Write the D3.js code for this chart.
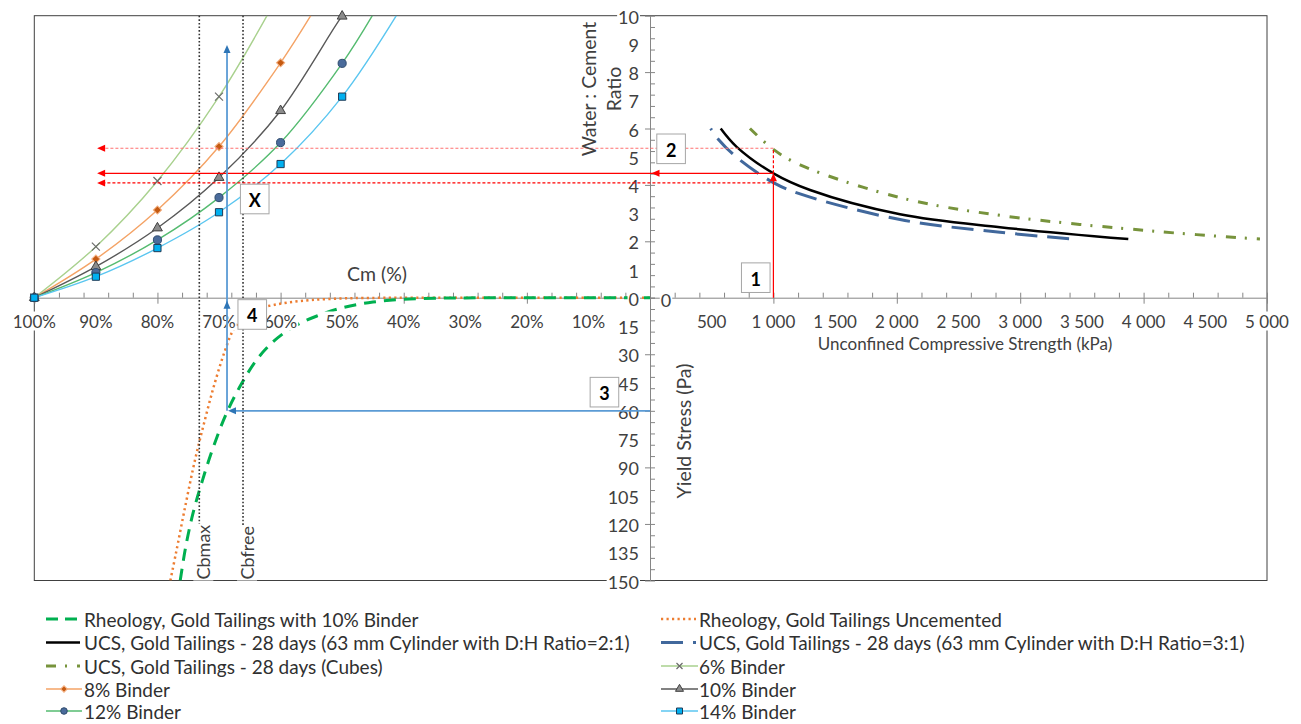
<!DOCTYPE html>
<html>
<head>
<meta charset="utf-8">
<script src="https://cdn.jsdelivr.net/npm/d3@7"></script>
<style>
  body { margin: 0; background: #fff; }
  svg text { font-family: Lato, "Open Sans", sans-serif; font-size: 17px; fill: #404040; }
  svg text.big { font-size: 19.5px; }
  svg text.leg { font-size: 19px; fill: #303030; }
</style>
</head>
<body>
<div id="chart"></div>
<script>
// tick labels
const cmLabels = [100, 90, 80, 70, 60, 50, 40, 30, 20, 10];
const wcLabels = [0, 1, 2, 3, 4, 5, 6, 7, 8, 9, 10];
const yieldLabels = [15, 30, 45, 60, 75, 90, 105, 120, 135, 150];
const ucsLabels = [500, 1000, 1500, 2000, 2500, 3000, 3500, 4000, 4500, 5000];

// W:C ratio vs Cm (%) for each binder content: markers, then where the trend line leaves the top
const binder6 = [[100, 0], [90, 1.81], [80, 4.14], [70, 7.13]];
const binder6End = [62.2, 10];
const binder8 = [[100, 0], [90, 1.37], [80, 3.11], [70, 5.36], [60, 8.33]];
const binder8End = [55.1, 10];
const binder10 = [[100, 0], [90, 1.1], [80, 2.47], [70, 4.26], [60, 6.63], [50, 9.98]];
const binder10End = [49.8, 10];
const binder12 = [[100, 0], [90, 0.89], [80, 2.05], [70, 3.55], [60, 5.5], [50, 8.31]];
const binder12End = [45.1, 10];
const binder14 = [[100, 0], [90, 0.745], [80, 1.76], [70, 3.03], [60, 4.74], [50, 7.13]];
const binder14End = [41.2, 10];

// W:C ratio vs UCS (kPa)
const ucsCyl21 = [[573, 6.0], [702, 5.35], [1000, 4.41], [1297, 3.82], [2026, 2.96], [2836, 2.5], [3876, 2.08]];
const ucsCyl31 = [[492, 6.0], [553, 5.62], [702, 4.98], [1000, 4.08], [1216, 3.68], [2026, 2.77], [2836, 2.32], [3458, 2.07]];
const ucsCubes = [[810, 6.0], [1000, 5.26], [1216, 4.71], [2026, 3.55], [2836, 2.92], [4133, 2.34], [4943, 2.08]];

// yield stress (Pa) vs Cm (%)
const rheo10 = [[76.3, 150], [75.4, 132], [74.2, 114], [72.7, 97], [70.9, 79], [68.75, 61], [66.3, 45.4],
  [63.9, 33], [61.2, 23.3], [57.9, 15.4], [54.1, 9.7], [49.8, 5.2], [45, 2.3], [40, 0.8], [35, 0.3], [30, 0.1], [0, 0]];
const rheoUncem = [[77.9, 150], [77.0, 135.6], [75.5, 110.9], [73.9, 86.1], [72.3, 64.9], [70.7, 45.4], [69.0, 27.8],
  [67.7, 17.2], [66.6, 12.6], [65.0, 8.0], [63, 5.3], [61.2, 3.9], [58.5, 2.4], [55, 1.2], [50, 0.4], [45, 0.1], [0, 0]];

// annotation values
const cbmax = 73.2;
const cbfree = 66.1;
const redUCS = 1000;
const redWC = [5.3, 4.41, 4.07]; // upper dashed, solid, lower dashed
const redArrowCm = 89.8;
const blueCm = 68.7;
const blueYield = 60;
const blueTopWC = 8.96;

const w = 1301;
const h = 724;

const xCm = d3.scaleLinear().domain([100, 0]).range([34.3, 650]);
const yWC = d3.scaleLinear().domain([0, 10]).range([297.7, 15.7]);
const yYS = d3.scaleLinear().domain([0, 150]).range([297.7, 580.5]);
const xUCS = d3.scaleLinear().domain([0, 5000]).range([650, 1267]);

const fmt = d3.formatLocale({ decimal: ".", thousands: " ", grouping: [3], currency: ["", ""] }).format(",");

const svg = d3.select("#chart").append("svg").attr("width", w).attr("height", h);

const defs = svg.append("defs");
defs.append("clipPath").attr("id", "clipTL").append("rect")
  .attr("x", xCm(100)).attr("y", yWC(10)).attr("width", xCm(0) - xCm(100)).attr("height", yWC(0) - yWC(10));
defs.append("clipPath").attr("id", "clipBL").append("rect")
  .attr("x", xCm(100)).attr("y", yWC(0) - 6).attr("width", xCm(0) - xCm(100)).attr("height", yYS(150) - yWC(0) + 6);

// white box behind labels, like Excel does
function addBackground(sel) {
  sel.each(function () {
    const b = this.getBBox();
    d3.select(this.parentNode)
      .insert("rect", () => this)
      .attr("x", b.x - 1).attr("y", b.y + 1)
      .attr("width", b.width + 2).attr("height", b.height - 2)
      .attr("transform", this.getAttribute("transform"))
      .attr("fill", "#fff");
  });
}

// plot area border
svg.append("rect")
  .attr("x", xCm(100)).attr("y", yWC(10))
  .attr("width", xUCS(5000) - xCm(100)).attr("height", yYS(150) - yWC(10))
  .attr("fill", "none").attr("stroke", "#404040").attr("stroke-width", 1);

// axes
const axisColor = "#868686";
function styleAxis(g) {
  g.selectAll("path").attr("stroke", axisColor);
  g.selectAll("line").attr("stroke", axisColor);
  g.selectAll("text").remove();
}
const minorCm = d3.range(0, 26).map((i) => i * 4);
const minorUCS = d3.range(0, 26).map((i) => i * 200);
const minorWC = d3.range(0, 26).map((i) => +(i * 0.4).toFixed(1));
const minorYS = d3.range(0, 26).map((i) => i * 6);

svg.append("g").attr("transform", `translate(0,${yWC(0)})`)
  .call(d3.axisTop(xCm).tickValues(minorCm).tickSize(5).tickSizeOuter(0).tickFormat(""))
  .call(styleAxis);
svg.append("g").attr("transform", `translate(0,${yWC(0)})`)
  .call(d3.axisBottom(xCm).tickValues([100, 80, 60, 40, 20, 0]).tickSize(6).tickSizeOuter(0).tickFormat(""))
  .call(styleAxis).call((g) => g.select(".domain").remove());

svg.append("g").attr("transform", `translate(0,${yWC(0)})`)
  .call(d3.axisTop(xUCS).tickValues(minorUCS).tickSize(5).tickSizeOuter(0).tickFormat(""))
  .call(styleAxis);
svg.append("g").attr("transform", `translate(0,${yWC(0)})`)
  .call(d3.axisBottom(xUCS).tickValues([1000, 2000, 3000, 4000, 5000]).tickSize(6).tickSizeOuter(0).tickFormat(""))
  .call(styleAxis).call((g) => g.select(".domain").remove());

svg.append("g").attr("transform", `translate(${xCm(0)},0)`)
  .call(d3.axisRight(yWC).tickValues(minorWC).tickSize(5).tickSizeOuter(0).tickFormat(""))
  .call(styleAxis);
svg.append("g").attr("transform", `translate(${xCm(0)},0)`)
  .call(d3.axisLeft(yWC).tickValues([2, 4, 6, 8, 10]).tickSize(5).tickSizeOuter(0).tickFormat(""))
  .call(styleAxis).call((g) => g.select(".domain").remove());
svg.append("g").attr("transform", `translate(${xCm(0)},0)`)
  .call(d3.axisRight(yYS).tickValues(minorYS).tickSize(5).tickSizeOuter(0).tickFormat(""))
  .call(styleAxis);
svg.append("g").attr("transform", `translate(${xCm(0)},0)`)
  .call(d3.axisLeft(yYS).tickValues([30, 60, 90, 120, 150]).tickSize(5).tickSizeOuter(0).tickFormat(""))
  .call(styleAxis).call((g) => g.select(".domain").remove());

// binder trend lines (top left)
const binders = [
  { name: "6% Binder", pts: binder6, end: binder6End, line: "#a9d18e", marker: "x", fill: "none", stroke: "#6b6b6b" },
  { name: "8% Binder", pts: binder8, end: binder8End, line: "#f4a366", marker: "diamond", fill: "#c55a11", stroke: "#f4b183" },
  { name: "10% Binder", pts: binder10, end: binder10End, line: "#595959", marker: "triangle", fill: "#8c8c8c", stroke: "#404040" },
  { name: "12% Binder", pts: binder12, end: binder12End, line: "#55bb70", marker: "circle", fill: "#4a6b9b", stroke: "#2f4b6e" },
  { name: "14% Binder", pts: binder14, end: binder14End, line: "#5bc6f0", marker: "square", fill: "#00b0f0", stroke: "#1f3a56" }
];

const binderLine = d3.line()
  .x((d) => xCm(d[0])).y((d) => yWC(d[1]))
  .curve(d3.curveCatmullRom.alpha(0.5));

svg.append("g").attr("clip-path", "url(#clipTL)")
  .selectAll("path")
  .data(binders)
  .enter()
  .append("path")
  .attr("d", (d) => binderLine(d.pts.concat([d.end])))
  .attr("fill", "none")
  .attr("stroke", (d) => d.line)
  .attr("stroke-width", 1.4);

// UCS curves (top right)
const ucsLine = d3.line()
  .x((d) => xUCS(d[0])).y((d) => yWC(d[1]))
  .curve(d3.curveCatmullRom.alpha(0.5));

svg.append("path").attr("d", ucsLine(ucsCubes))
  .attr("fill", "none").attr("stroke", "#77933c").attr("stroke-width", 3)
  .attr("stroke-dasharray", "10,9,2,10");
svg.append("path").attr("d", ucsLine(ucsCyl31))
  .attr("fill", "none").attr("stroke", "#41689c").attr("stroke-width", 3)
  .attr("stroke-dasharray", "22,10").attr("stroke-dashoffset", 20);
svg.append("path").attr("d", ucsLine(ucsCyl21))
  .attr("fill", "none").attr("stroke", "#000").attr("stroke-width", 2.5);

// rheology curves (bottom left)
const rheoLine = d3.line()
  .x((d) => xCm(d[0])).y((d) => yYS(d[1]))
  .curve(d3.curveCatmullRom.alpha(0.5));

const rheoG = svg.append("g").attr("clip-path", "url(#clipBL)");
rheoG.append("path").attr("d", rheoLine(rheoUncem))
  .attr("fill", "none").attr("stroke", "#ed7d31").attr("stroke-width", 2.5)
  .attr("stroke-dasharray", "2.2,3.3");
rheoG.append("path").attr("d", rheoLine(rheo10))
  .attr("fill", "none").attr("stroke", "#00b050").attr("stroke-width", 3)
  .attr("stroke-dasharray", "12,8");

// Cbmax / Cbfree dotted lines
[cbmax, cbfree].forEach((v) => {
  svg.append("line")
    .attr("x1", xCm(v)).attr("x2", xCm(v))
    .attr("y1", yWC(10)).attr("y2", yYS(132))
    .attr("stroke", "#333").attr("stroke-width", 1.6)
    .attr("stroke-dasharray", "1.6,2");
});

// tick labels
const labels = svg.append("g");
labels.selectAll(".cm")
  .data(cmLabels).enter().append("text")
  .attr("x", (d) => xCm(d)).attr("y", 321)
  .attr("text-anchor", "middle").attr("dominant-baseline", "central")
  .text((d) => d + "%");
labels.selectAll(".wc")
  .data(wcLabels).enter().append("text")
  .attr("x", 639).attr("y", (d) => yWC(d) + 1)
  .attr("text-anchor", "end").attr("dominant-baseline", "central")
  .style("font-size", "18px")
  .text((d) => d);
labels.selectAll(".ys")
  .data(yieldLabels).enter().append("text")
  .attr("x", 639).attr("y", (d) => yYS(d) + 1)
  .attr("text-anchor", "end").attr("dominant-baseline", "central")
  .style("font-size", "18px")
  .text((d) => d);
labels.selectAll(".ucs")
  .data(ucsLabels).enter().append("text")
  .attr("x", (d) => xUCS(d)).attr("y", 321)
  .attr("text-anchor", "middle").attr("dominant-baseline", "central")
  .text((d) => fmt(d));
labels.append("text")
  .attr("x", xUCS(0) + 16).attr("y", yWC(0) + 2)
  .attr("text-anchor", "middle").attr("dominant-baseline", "central")
  .style("font-size", "18px")
  .text("0");

// Cbmax / Cbfree labels
[["Cbmax", cbmax], ["Cbfree", cbfree]].forEach(([t, v]) => {
  labels.append("text")
    .attr("transform", `translate(${xCm(v) + 4},${yYS(150) - 1}) rotate(-90)`)
    .attr("dominant-baseline", "central")
    .style("font-size", "18px")
    .text(t);
});
labels.selectAll("text").call(addBackground);

// binder markers
const mk = svg.append("g");
binders.forEach((b) => {
  const g = mk.append("g");
  const pts = g.selectAll("path").data(b.pts).enter().append("path")
    .attr("fill", b.fill).attr("stroke", b.stroke).attr("stroke-width", 1);
  if (b.marker === "x") {
    pts.attr("d", "M-4,-4L4,4M-4,4L4,-4").attr("stroke-width", 1.2);
  } else if (b.marker === "diamond") {
    pts.attr("d", d3.symbol(d3.symbolSquare, 34)());
  } else if (b.marker === "triangle") {
    pts.attr("d", d3.symbol(d3.symbolTriangle, 42)());
  } else if (b.marker === "circle") {
    pts.attr("d", d3.symbol(d3.symbolCircle, 52)());
  } else {
    pts.attr("d", d3.symbol(d3.symbolSquare, 52)());
  }
  pts.attr("transform", (d) => `translate(${xCm(d[0])},${yWC(d[1])})` + (b.marker === "diamond" ? " rotate(45)" : ""));
});

// arrow helper: tip at (x, y), pointing "up" or "left"
function arrow(x, y, dir, color) {
  const d = dir === "up"
    ? `M${x},${y}L${x - 3.5},${y + 8}L${x + 3.5},${y + 8}Z`
    : `M${x},${y}L${x + 8},${y - 3.5}L${x + 8},${y + 3.5}Z`;
  svg.append("path").attr("d", d).attr("fill", color);
}

// red annotation (UCS -> W:C -> Cm)
const red = "#ff0000";
const xR = xUCS(redUCS);
const xRL = xCm(redArrowCm);
svg.append("line").attr("x1", xR).attr("x2", xR).attr("y1", yWC(0)).attr("y2", yWC(redWC[1]) + 4)
  .attr("stroke", red).attr("stroke-width", 1.2);
svg.append("line").attr("x1", xR).attr("x2", xR).attr("y1", yWC(redWC[1])).attr("y2", yWC(redWC[0]))
  .attr("stroke", red).attr("stroke-width", 1.2).attr("stroke-dasharray", "3,2");
svg.append("line").attr("x1", xR).attr("x2", xRL + 4).attr("y1", yWC(redWC[1])).attr("y2", yWC(redWC[1]))
  .attr("stroke", red).attr("stroke-width", 1.2);
svg.append("line").attr("x1", xR).attr("x2", xRL + 4).attr("y1", yWC(redWC[0])).attr("y2", yWC(redWC[0]))
  .attr("stroke", "#ff7070").attr("stroke-width", 1.2).attr("stroke-dasharray", "3,2");
svg.append("line").attr("x1", xR - 3).attr("x2", xRL + 4).attr("y1", yWC(redWC[2])).attr("y2", yWC(redWC[2]))
  .attr("stroke", red).attr("stroke-width", 1.2).attr("stroke-dasharray", "3,2");
arrow(xR, yWC(redWC[1]), "up", red);
arrow(xCm(0) + 1.5, yWC(redWC[1]), "left", red);
redWC.forEach((v) => arrow(xRL, yWC(v), "left", red));

// blue annotation (yield stress -> Cm -> W:C)
const blue = "#5b9bd5";
const xB = xCm(blueCm);
svg.append("line").attr("x1", xB).attr("x2", xB).attr("y1", yWC(blueTopWC) + 4).attr("y2", yYS(blueYield))
  .attr("stroke", blue).attr("stroke-width", 1.8);
svg.append("line").attr("x1", xCm(0)).attr("x2", xB + 4).attr("y1", yYS(blueYield)).attr("y2", yYS(blueYield))
  .attr("stroke", blue).attr("stroke-width", 1.8);
arrow(xB, yWC(blueTopWC), "up", "#2e75b6");
arrow(xB, yYS(1.6), "up", "#2e75b6");
arrow(xB + 1, yYS(blueYield), "left", "#2e75b6");

// numbered boxes
const boxes = [
  { t: "X", x: xCm(64.2), y: yWC(3.5) },
  { t: "1", x: xUCS(857), y: yWC(0.71) },
  { t: "2", x: xUCS(171), y: yWC(5.28) },
  { t: "3", x: xCm(7.4), y: yYS(50.1) },
  { t: "4", x: xCm(64.6), y: yYS(8.9) }
];
const bx = svg.selectAll(".box").data(boxes).enter().append("g")
  .attr("transform", (d) => `translate(${d.x},${d.y})`);
bx.append("rect").attr("x", -14.3).attr("y", -14.8).attr("width", 28.6).attr("height", 29.6)
  .attr("fill", "#fff").attr("stroke", "#a6a6a6").attr("stroke-width", 1);
bx.append("text").attr("text-anchor", "middle").attr("dominant-baseline", "central").attr("y", 1)
  .style("font-weight", "bold").style("fill", "#000").style("font-size", "18px").text((d) => d.t);

// axis titles
svg.append("text").attr("class", "big").attr("x", 377).attr("y", 273).attr("text-anchor", "middle")
  .attr("dominant-baseline", "central").text("Cm (%)");
svg.append("text").attr("class", "big").attr("transform", "translate(588,89) rotate(-90)").attr("text-anchor", "middle")
  .attr("dominant-baseline", "central").text("Water : Cement");
svg.append("text").attr("class", "big").attr("transform", "translate(613,89) rotate(-90)").attr("text-anchor", "middle")
  .attr("dominant-baseline", "central").text("Ratio");
svg.append("text").attr("class", "big").attr("transform", "translate(683,431) rotate(-90)").attr("text-anchor", "middle")
  .attr("dominant-baseline", "central").text("Yield Stress (Pa)");
svg.append("text").attr("x", 965).attr("y", 343).attr("text-anchor", "middle")
  .attr("dominant-baseline", "central").text("Unconfined Compressive Strength (kPa)");

// legend
const legendRows = [619, 642.5, 666, 689, 711];
const legendItems = [
  { col: 0, row: 0, name: "Rheology, Gold Tailings with 10% Binder", stroke: "#00b050", width: 3, dash: "12,7" },
  { col: 1, row: 0, name: "Rheology, Gold Tailings Uncemented", stroke: "#ed7d31", width: 2.5, dash: "2.2,3.3" },
  { col: 0, row: 1, name: "UCS, Gold Tailings - 28 days (63 mm Cylinder with D:H Ratio=2:1)", stroke: "#000", width: 2.5 },
  { col: 1, row: 1, name: "UCS, Gold Tailings - 28 days (63 mm Cylinder with D:H Ratio=3:1)", stroke: "#41689c", width: 3, dash: "22,10" },
  { col: 0, row: 2, name: "UCS, Gold Tailings - 28 days (Cubes)", stroke: "#77933c", width: 3, dash: "10,9,2,10" },
  { col: 1, row: 2, binder: binders[0] },
  { col: 0, row: 3, binder: binders[1] },
  { col: 1, row: 3, binder: binders[2] },
  { col: 0, row: 4, binder: binders[3] },
  { col: 1, row: 4, binder: binders[4] }
];
const legendX = [[46, 80, 84], [661, 696, 699]];

legendItems.forEach((it) => {
  const [x1, x2, tx] = legendX[it.col];
  const y = legendRows[it.row];
  const g = svg.append("g");
  if (it.binder) {
    const b = it.binder;
    g.append("line").attr("x1", x1).attr("x2", x2 + 2).attr("y1", y).attr("y2", y)
      .attr("stroke", b.line).attr("stroke-width", 1.4);
    const m = g.append("path").attr("fill", b.fill).attr("stroke", b.stroke).attr("stroke-width", 1);
    const cx = (x1 + x2 + 2) / 2;
    if (b.marker === "x") m.attr("d", "M-3,-3L3,3M-3,3L3,-3").attr("stroke-width", 1.2);
    else if (b.marker === "diamond") m.attr("d", d3.symbol(d3.symbolSquare, 22)());
    else if (b.marker === "triangle") m.attr("d", d3.symbol(d3.symbolTriangle, 28)());
    else if (b.marker === "circle") m.attr("d", d3.symbol(d3.symbolCircle, 34)());
    else m.attr("d", d3.symbol(d3.symbolSquare, 36)());
    m.attr("transform", `translate(${cx},${y})` + (b.marker === "diamond" ? " rotate(45)" : ""));
    g.append("text").attr("class", "leg").attr("x", tx).attr("y", y).attr("dominant-baseline", "central").text(b.name);
  } else {
    g.append("line").attr("x1", x1).attr("x2", x2).attr("y1", y).attr("y2", y)
      .attr("stroke", it.stroke).attr("stroke-width", it.width)
      .attr("stroke-dasharray", it.dash || null);
    g.append("text").attr("class", "leg").attr("x", tx).attr("y", y).attr("dominant-baseline", "central").text(it.name);
  }
});
</script>
</body>
</html>
